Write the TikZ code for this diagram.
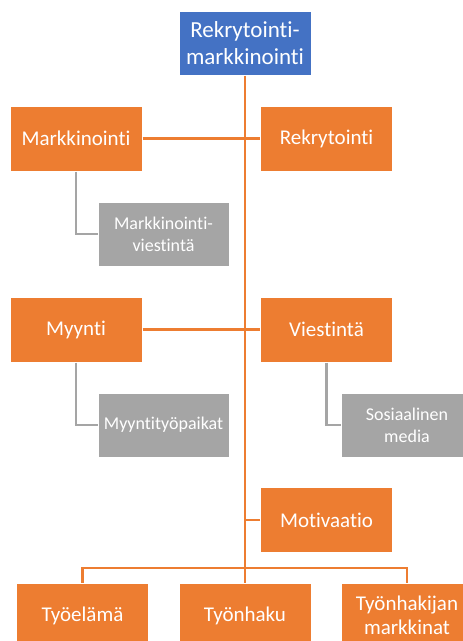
\documentclass[tikz,border=0pt]{standalone}
\usepackage{fontspec}
\setmainfont{Carlito}[Ligatures={NoCommon}]
\usepackage{xcolor}
\usetikzlibrary{positioning,calc}
\definecolor{accorange}{HTML}{ED7D31}
\definecolor{accblue}{HTML}{4472C4}
\definecolor{accgray}{HTML}{A5A5A5}

\begin{document}
\begin{tikzpicture}[x=1pt,y=-1pt,
  obox/.style={fill=accorange,draw=white,line width=1pt,text=white,
    minimum width=132pt,minimum height=65pt,align=center,font=\fontsize{21}{24}\selectfont},
  topbox/.style={obox,fill=accblue,minimum height=64pt,font=\fontsize{23}{27}\selectfont},
  gbox/.style={obox,fill=accgray,minimum width=131pt,minimum height=64pt,font=\fontsize{18}{22}\selectfont},
  oline/.style={draw=accorange,line width=2.6pt},
  gline/.style={draw=accgray,line width=2.6pt}]
\useasboundingbox (0,0) rectangle (463,641);
\fill[white] (0,0) rectangle (463,641);
% boxes
\node[topbox] (top) at (245,43) {Rekrytointi-\\markkinointi};
\node[obox] (markk) at (76,138.5) {Markkinointi};
\node[obox] (rekry) at (326.5,138.5) {Rekrytointi};
\node[gbox] (mviest) at (163.5,234) {Markkinointi-\\viestintä};
\node[obox] (myynti) at (76,329.5) {Myynti};
\node[obox] (viest) at (326.5,329.5) {Viestintä};
\node[gbox] (mtyo) at (163.5,425) {Myyntityöpaikat};
\node[gbox] (some) at (407,425) {Sosiaalinen\\media};
\node[obox] (motiv) at (326.5,520) {Motivaatio};
\node[obox] (tyoel) at (82.5,615.5) {Työelämä};
\node[obox] (haku) at (245,615.5) {Työnhaku};
\node[obox] (hakij) at (407,615.5) {Työnhakijan\\markkinat};
\coordinate (hub) at (245,568);
% connectors
\draw[oline] (top.south) -- (haku.north);
\draw[oline] (markk.east) -- (rekry.west);
\draw[oline] (myynti.east) -- (viest.west);
\draw[oline] (motiv.west) -- (motiv.west -| top.south);
\draw[oline] (tyoel.north) |- (hub) -| (hakij.north);
\draw[gline] (markk.south) |- (mviest.west);
\draw[gline] (myynti.south) |- (mtyo.west);
\draw[gline] (viest.south) |- (some.west);
\end{tikzpicture}
\end{document}
